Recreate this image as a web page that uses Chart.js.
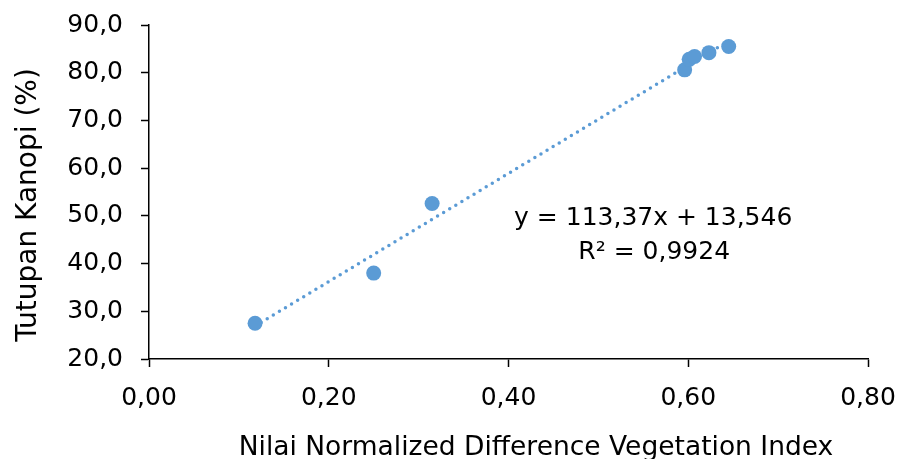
<!DOCTYPE html>
<html>
<head>
<meta charset="utf-8">
<script src="https://cdn.jsdelivr.net/npm/chart.js@4"></script>
<style>
html,body{margin:0;padding:0;background:#fff;}
#wrap{width:899px;height:459px;}
</style>
</head>
<body>
<div id="wrap"><canvas id="c" width="899" height="459"></canvas></div>
<script>
const ndvi = [0.118, 0.250, 0.315, 0.596, 0.601, 0.607, 0.623, 0.645];
const canopy = [27.5, 38.0, 52.6, 80.6, 82.8, 83.4, 84.2, 85.5];
const trendSlope = 113.37;
const trendIntercept = 13.546;
const trendX = [0.118, 0.645];
const xTicks = [0, 0.2, 0.4, 0.6, 0.8];
const yTicks = [20, 30, 40, 50, 60, 70, 80, 90];
const eqLines = ['y = 113,37x + 13,546', 'R\u00B2 = 0,9924'];
const xTitle = 'Nilai Normalized Difference Vegetation Index';
const yTitle = 'Tutupan Kanopi (%)';

const FONT = "'DejaVu Sans', sans-serif";
const BLUE = '#5B9BD5';

const pts = ndvi.map((x, i) => ({x: x, y: canopy[i]}));
const trend = trendX.map(x => ({x: x, y: trendSlope * x + trendIntercept}));

const fmt = (v, d) => v.toFixed(d).replace('.', ',');

const textPlugin = {
  id: 'texts',
  afterDraw(chart) {
    const ctx = chart.ctx;
    const xs = chart.scales.x, ys = chart.scales.y;
    ctx.save();
    ctx.fillStyle = '#000';
    ctx.font = '25px ' + FONT;
    ctx.textAlign = 'center';
    ctx.textBaseline = 'alphabetic';
    // regression equation
    const ex = xs.getPixelForValue(0.561);
    ctx.fillText(eqLines[0], ex, ys.getPixelForValue(48.1));
    ctx.fillText(eqLines[1], ex + 1, ys.getPixelForValue(41.0));
    // x axis title
    ctx.font = '26.5px ' + FONT;
    ctx.fillText(xTitle, 536, 455);
    // y axis title
    ctx.font = '28px ' + FONT;
    ctx.translate(36, 205);
    ctx.rotate(-Math.PI / 2);
    ctx.fillText(yTitle, 0, 0);
    ctx.restore();
  }
};

new Chart(document.getElementById('c'), {
  type: 'scatter',
  data: {
    datasets: [
      {
        label: 'data',
        data: pts,
        backgroundColor: BLUE,
        borderColor: BLUE,
        pointRadius: 7.5,
        pointBorderWidth: 0,
        order: 0
      },
      {
        type: 'line',
        label: 'trend',
        data: trend,
        borderColor: BLUE,
        borderWidth: 3.5,
        borderDash: [0, 7.1],
        borderCapStyle: 'round',
        pointRadius: 0,
        fill: false,
        order: 1
      }
    ]
  },
  options: {
    responsive: false,
    animation: false,
    devicePixelRatio: 1,
    layout: {padding: {top: 25, right: 31, bottom: 0, left: 0}},
    plugins: {legend: {display: false}, tooltip: {enabled: false}},
    scales: {
      x: {
        type: 'linear',
        min: 0, max: 0.8,
        afterFit: s => { s.height = 100; s.paddingLeft = 0; s.paddingRight = 0; },
        afterBuildTicks: s => { s.ticks = xTicks.map(v => ({value: v})); },
        ticks: {
          color: '#000',
          font: {family: FONT, size: 25},
          padding: 16,
          maxRotation: 0,
          callback: v => fmt(v, 2)
        },
        grid: {drawOnChartArea: false, drawTicks: true, tickLength: 8, color: '#000', tickWidth: 1.5},
        border: {color: '#000', width: 1.5}
      },
      y: {
        type: 'linear',
        min: 20, max: 90,
        afterFit: s => { s.width = 149; s.paddingTop = 0; s.paddingBottom = 0; },
        afterBuildTicks: s => { s.ticks = yTicks.map(v => ({value: v})); },
        ticks: {
          color: '#000',
          font: {family: FONT, size: 25},
          padding: 18,
          callback: v => fmt(v, 1)
        },
        grid: {drawOnChartArea: false, drawTicks: true, tickLength: 8, color: '#000', tickWidth: 1.5},
        border: {color: '#000', width: 1.5}
      }
    }
  },
  plugins: [textPlugin]
});
</script>
</body>
</html>
